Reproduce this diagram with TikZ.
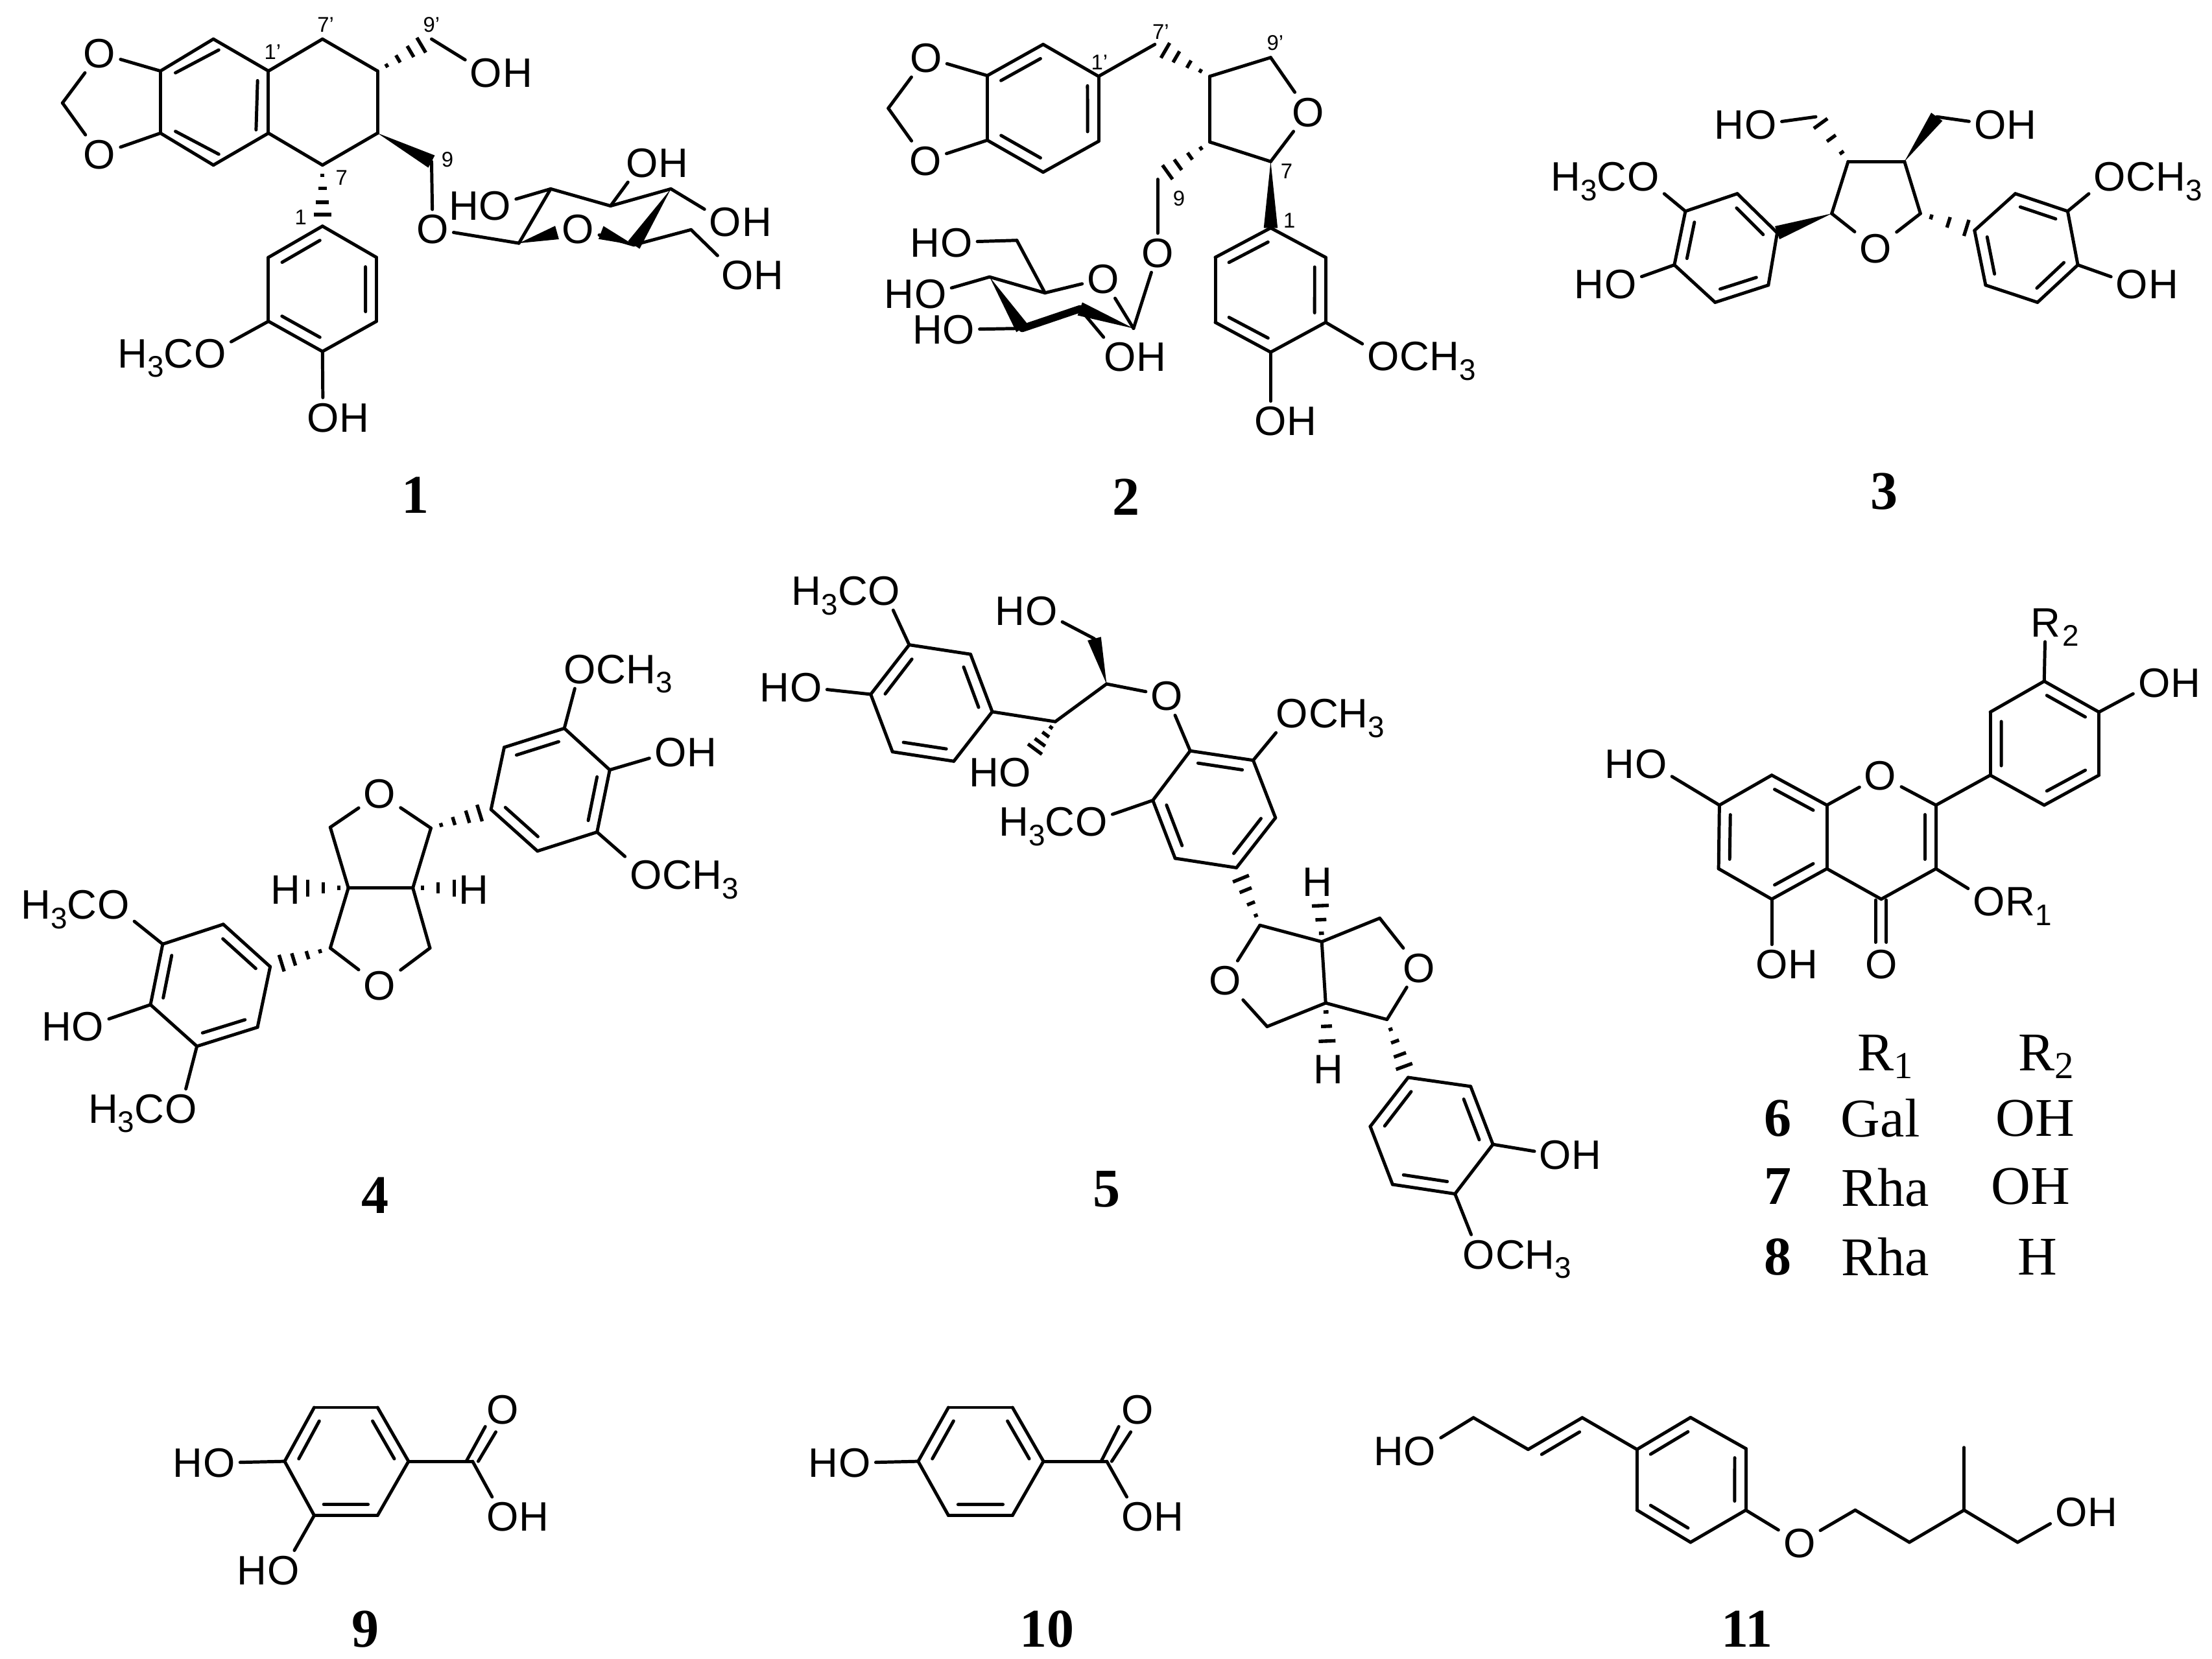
\documentclass[tikz,border=0pt]{standalone}
\usepackage{fontspec}
\setmainfont{Liberation Serif}
\setsansfont{Liberation Sans}
\usetikzlibrary{calc,positioning}
\tikzset{
  bond/.style={line width=0.65pt,line cap=round,line join=round},
  boldbond/.style={line width=1.5pt,line cap=round},
  hashline/.style={line width=0.7pt},
  atm/.style={font=\sffamily\fontsize{8.3}{9}\selectfont,inner sep=0.8pt,text height=5.9pt,text depth=0pt},
  tag/.style={font=\sffamily\fontsize{4.3}{5}\selectfont,inner sep=0pt},
  num/.style={font=\bfseries\fontsize{11}{12}\selectfont,inner sep=0pt},
  tab/.style={font=\fontsize{11}{12}\selectfont,inner sep=0pt},
  mola/.style={x=.003753cm,y=-.002522cm},
  molb/.style={shift={(5.701cm,0cm)},x=.003225cm,y=-.002522cm},
  molc/.style={shift={(10.759cm,-.276cm)},x=.003140cm,y=-.002346cm},
  mold/.style={shift={(0cm,-4.322cm)},x=.003460cm,y=-.002815cm},
  mole/.style={shift={(5.287cm,-3.954cm)},x=.003958cm,y=-.003343cm},
  molf/.style={shift={(11.218cm,-4.138cm)},x=.002847cm,y=-.003225cm},
  molg/.style={shift={(.92cm,-9.655cm)},x=.004985cm,y=-.001507cm},
  molh/.style={shift={(9.425cm,-9.655cm)},x=.003991cm,y=-.001507cm},
}
% atoms, bonds
\newcommand{\atoms}[1]{\foreach \n/\x/\y in {#1}{\coordinate (\n) at (\x,\y);}}
\newcommand{\bonds}[1]{\foreach \a/\b in {#1}{\draw[bond] (\a) -- (\b);}}
\newcommand{\inbonds}[1]{\foreach \a/\b/\c in {#1}{\draw[bond] ($(\a)!.06!(\b)!2.5pt!(\c)$) -- ($(\b)!.06!(\a)!2.5pt!(\c)$);}}
\newcommand{\wedgeb}[2]{\fill (#1) -- ($(#2)!1.4pt!90:(#1)$) -- ($(#2)!1.4pt!-90:(#1)$) -- cycle;}
\newcommand{\hashb}[2]{\foreach \t/\w in {.17/.4,.38/.85,.61/1.3,.81/1.75}{\draw[hashline] ($(#1)!\t!(#2)!\w pt!90:(#2)$) -- ($(#1)!\t!(#2)!\w pt!-90:(#2)$);}}
\newcommand{\hashc}[2]{\foreach \t/\w in {.2/.5,.52/1.1,.85/1.7}{\draw[hashline] ($(#1)!\t!(#2)!\w pt!90:(#2)$) -- ($(#1)!\t!(#2)!\w pt!-90:(#2)$);}}
\newcommand{\lsub}[1]{\raisebox{-1.9pt}{\fontsize{6}{6}\selectfont #1}}
% labels: the O sits at the given point
\newcommand{\labOH}[2]{\node[atm] (#1) at #2 {O}; \node[atm,right=-1.9pt of #1] (#1t) {H};}
\newcommand{\labHO}[2]{\node[atm] (#1) at #2 {O}; \node[atm,left=-1.9pt of #1] (#1t) {H};}
\newcommand{\labOMe}[2]{\node[atm] (#1) at #2 {O}; \node[atm,right=-1.9pt of #1] (#1t) {CH\lsub{3}};}
\newcommand{\labMeO}[2]{\node[atm] (#1) at #2 {O}; \node[atm,left=-1.9pt of #1] (#1t) {H\lsub{3}C};}
\newcommand{\labO}[2]{\node[atm] (#1) at #2 {O};}
\begin{document}
\begin{tikzpicture}
  \useasboundingbox (0,0) rectangle (15.68,-11.763);
  % 1
  \begin{scope}[mola]
    \atoms{a1/403/110,a2/303/200,a3/303/375,a4/403/465,a5/507/375,a6/507/200,ab1/609/110,ab2/713/200,ab3/713/375,ab4/609/465,
      ach/118/290,acn/507/288,ac9p/815/110,ac9/815/455,as1/980/685,as2/1040/532,as3/1153/580,as4/1267/532,as5/1197/690,as6/1305/647,
      aw1/1052/655,aw2/1135/655,ac1/609/637,ac2/507/725,ac3/507/905,ac4/609/990,ac5/711/905,ac6/711/725,acc/609/813}
    \labO{aot}{(188,150)} \labO{aob}{(188,435)} \labOH{aoh9}{(918,205)} \labO{ao9}{(817,645)} \labO{aors}{(1092,645)}
    \labHO{ash1}{(935,578)} \labOH{ash2}{(1213,458)} \labOH{ash3}{(1370,625)} \labOH{ash4}{(1393,775)}
    \labMeO{aome}{(397,995)} \labOH{aoh}{(610,1175)}
    \bonds{a1/a2,a2/a3,a3/a4,a4/a5,a5/a6,a6/a1,a6/ab1,ab1/ab2,ab2/ab3,ab3/ab4,ab4/a5,a2/aot,aot/ach,ach/aob,aob/a3,
      ac9p/aoh9,ac9/ao9,ao9/as1,as1/as2,as2/as3,as3/as4,as5/as6,as5/aors,as2/ash1,as3/ash2,as4/ash3,as6/ash4,
      ac1/ac2,ac2/ac3,ac3/ac4,ac4/ac5,ac5/ac6,ac6/ac1,ac3/aome,ac4/aoh}
    \inbonds{a1/a2/acn,a3/a4/acn,a5/a6/a3,ac1/ac2/acc,ac3/ac4/acc,ac5/ac6/acc}
    \wedgeb{ab3}{ac9} \wedgeb{as4}{as5} \wedgeb{as1}{aw1} \wedgeb{as5}{aw2}
    \hashb{ab2}{ac9p} \hashb{ab4}{ac1}
    \node[tag] (at7p) at (615,70) {7'}; \node[tag] (at9p) at (815,70) {9'}; \node[tag] (at1p) at (515,147) {1'};
    \node[tag] (at9) at (845,450) {9}; \node[tag] (at7) at (645,500) {7}; \node[tag] (at1) at (568,612) {1};
    \node[num] (na) at (785,1395) {1};
  \end{scope}
  % 2
  \begin{scope}[molb]
    \atoms{b1/526/125,b2/403/213,b3/403/395,b4/526/485,b5/648/398,b6/648/215,bcc/526/305,bch/185/305,b7p/772/125,
      bt1/893/215,bt2/1027/162,bt3/1027/455,bt4/893/400,b9/778/505,bs1/725/925,bs2/607/870,bs3/480/925,bs4/408/780,bs5/530/825,bs6/468/677,
      bu1/1027/642,bu2/905/725,bu3/905/908,bu4/1027/992,bu5/1148/908,bu6/1148/725,buc/1027/817}
    \labO{bot}{(268,162)} \labO{bob}{(267,452)} \labO{bor}{(1110,315)} \labO{bo9}{(778,712)} \labO{bors}{(658,785)}
    \labHO{bsh1}{(335,682)} \labHO{bsh2}{(278,828)} \labHO{bsh3}{(340,928)} \labOH{bsh4}{(695,1005)}
    \labOMe{bome}{(1275,1003)} \labOH{boh}{(1027,1185)}
    \bonds{b1/b2,b2/b3,b3/b4,b4/b5,b5/b6,b6/b1,b2/bot,bot/bch,bch/bob,bob/b3,b6/b7p,bt1/bt2,bt2/bor,bor/bt3,bt3/bt4,bt4/bt1,
      b9/bo9,bo9/bs1,bs1/bors,bors/bs5,bs5/bs4,bs5/bs6,bs6/bsh1,bs4/bsh2,bs3/bsh3,bs2/bsh4,
      bu1/bu2,bu2/bu3,bu3/bu4,bu4/bu5,bu5/bu6,bu6/bu1,bu5/bome,bu4/boh}
    \inbonds{b1/b2/bcc,b3/b4/bcc,b5/b6/bcc,bu1/bu2/buc,bu3/bu4/buc,bu5/bu6/buc}
    \wedgeb{bt3}{bu1} \wedgeb{bs1}{bs2} \wedgeb{bs4}{bs3}
    \draw[boldbond] (bs2) -- (bs3);
    \hashb{bt1}{b7p} \hashb{bt4}{b9}
    \node[tag] (bt7p) at (785,90) {7'}; \node[tag] (bt9p) at (1037,120) {9'}; \node[tag] (bt1p) at (650,175) {1'};
    \node[tag] (bt7) at (1062,483) {7}; \node[tag] (bt9) at (825,560) {9}; \node[tag] (bt1t) at (1068,622) {1};
    \node[num] (nb) at (708,1400) {2};
  \end{scope}
  % 3
  \begin{scope}[molc]
    \atoms{cf1/745/370,cf2/872/370,cf3/908/527,cf4/708/527,cm1/672/235,cm2/945/235,
      cl1/585/585,cl2/495/467,cl3/378/520,cl4/353/682,cl5/445/795,cl6/565/743,clc/470/630,
      cr1/1030/578,cr2/1122/467,cr3/1240/520,cr4/1263/682,cr5/1172/795,cr6/1055/743,crc/1147/630}
    \labO{cor}{(807,632)} \labHO{cm1o}{(548,258)} \labOH{cm2o}{(1065,258)}
    \labMeO{clm}{(283,415)} \labHO{clh}{(232,740)} \labOMe{crm}{(1335,415)} \labOH{crh}{(1385,740)}
    \bonds{cf1/cf2,cf2/cf3,cf3/cor,cor/cf4,cf4/cf1,cm1/cm1o,cm2/cm2o,cl1/cl2,cl2/cl3,cl3/cl4,cl4/cl5,cl5/cl6,cl6/cl1,cl3/clm,cl4/clh,
      cr1/cr2,cr2/cr3,cr3/cr4,cr4/cr5,cr5/cr6,cr6/cr1,cr3/crm,cr4/crh}
    \inbonds{cl1/cl2/clc,cl3/cl4/clc,cl5/cl6/clc,cr1/cr6/crc,cr2/cr3/crc,cr4/cr5/crc}
    \wedgeb{cf2}{cm2} \wedgeb{cf4}{cl1} \hashc{cf1}{cm1} \hashc{cf3}{cr1}
    \node[num] (nc) at (827,1365) {3};
  \end{scope}
  % 4
  \begin{scope}[mold]
    \atoms{dc1/713/703,dc2/845/703,dd1/676/550,dd2/882/552,de1/676/855,de2/880/855,dh1/615/703,dh2/945/703,
      dA1/1005/505,dA2/1032/348,dA3/1155/300,dA4/1248/405,dA5/1222/562,dA6/1100/610,dAc/1127/455,
      dB1/553/902,dB2/457/795,dB3/333/845,dB4/308/998,dB5/403/1103,dB6/527/1055,dBc/430/950}
    \labO{dot}{(777,465)} \labO{dob}{(777,950)}
    \node[atm] (dhl) at (585,707) {H}; \node[atm] (dhr) at (970,707) {H};
    \labOMe{dam}{(1187,150)} \labOH{dah}{(1372,360)} \labOMe{dan}{(1322,670)}
    \labMeO{dbm}{(232,745)} \labHO{dbh}{(180,1052)} \labMeO{dbn}{(370,1260)}
    \bonds{dc1/dc2,dc1/dd1,dd1/dot,dot/dd2,dd2/dc2,dc1/de1,de1/dob,dob/de2,de2/dc2,
      dA1/dA2,dA2/dA3,dA3/dA4,dA4/dA5,dA5/dA6,dA6/dA1,dA3/dam,dA4/dah,dA5/dan,
      dB1/dB2,dB2/dB3,dB3/dB4,dB4/dB5,dB5/dB6,dB6/dB1,dB3/dbm,dB4/dbh,dB5/dbn}
    \inbonds{dA1/dA6/dAc,dA2/dA3/dAc,dA4/dA5/dAc,dB1/dB2/dBc,dB3/dB4/dBc,dB5/dB6/dBc}
    \hashc{dc1}{dh1} \hashc{dc2}{dh2} \hashb{dd2}{dA1} \hashb{de1}{dB1}
    \node[num] (nd) at (768,1480) {4};
  \end{scope}
  % 5
  \begin{scope}[mole]
    \atoms{eP1/293/185,eP2/403/205,eP3/442/327,eP4/373/432,eP5/263/412,eP6/224/290,ePc/333/310,
      eg1/555/348,eg2/647/268,eg3/625/172,egh/510/420,
      eQ1/797/410,eQ2/910/430,eQ3/950/552,eQ4/880/658,eQ5/770/638,eQ6/730/515,eQc/840/535,
      ek1/922/780,ek2/1033/815,ek3/1040/945,ek4/1150/980,ek5/935/995,ek6/1137/765,eh1/1030/725,eh2/1043/1040,
      em1/1188/1103,em2/1300/1122,em3/1340/1245,em4/1272/1350,em5/1160/1330,em6/1120/1207,emc/1230/1226}
    \labMeO{ePm}{(248,70)} \labHO{ePh}{(108,275)} \labHO{eg3o}{(530,113)} \labHO{eg1o}{(483,455)} \labO{eox}{(755,293)}
    \labOMe{eQm}{(980,330)} \labMeO{eQn}{(620,560)} \labO{eol}{(860,897)} \labO{eor}{(1207,870)}
    \node[atm] (eht) at (1025,688) {H}; \node[atm] (ehb) at (1045,1085) {H};
    \labOH{emh}{(1452,1267)} \labOMe{emm}{(1315,1478)}
    \bonds{eP1/eP2,eP2/eP3,eP3/eP4,eP4/eP5,eP5/eP6,eP6/eP1,eP1/ePm,eP6/ePh,eP3/eg1,eg1/eg2,eg2/eox,eg3/eg3o,eox/eQ1,
      eQ1/eQ2,eQ2/eQ3,eQ3/eQ4,eQ4/eQ5,eQ5/eQ6,eQ6/eQ1,eQ2/eQm,eQ6/eQn,
      ek1/ek2,ek2/ek3,ek3/ek4,ek3/ek5,ek2/ek6,ek6/eor,eor/ek4,ek1/eol,eol/ek5,
      em1/em2,em2/em3,em3/em4,em4/em5,em5/em6,em6/em1,em3/emh,em4/emm}
    \inbonds{eP1/eP6/ePc,eP2/eP3/ePc,eP4/eP5/ePc,eQ1/eQ2/eQc,eQ3/eQ4/eQc,eQ5/eQ6/eQc,em1/em6/emc,em2/em3/emc,em4/em5/emc}
    \wedgeb{eg2}{eg3} \hashb{eg1}{egh} \hashb{ek1}{eQ4} \hashc{ek2}{eh1} \hashc{ek3}{eh2} \hashb{ek4}{em1}
    \node[num] (ne) at (647,1340) {5};
  \end{scope}
  % 6-8
  \begin{scope}[molf]
    \atoms{fn1/340/488,fn2/470/422,fn3/607/488,fn4/607/628,fn5/470/695,fn6/338/628,fnc/473/558,
      fv1/878/488,fv2/878/628,fv3/742/695,fvc/742/558,fca/728/697,fcb/728/790,fcc/755/697,fcd/755/790,
      fw1/1013/422,fw2/1013/283,fw3/1147/215,fw4/1283/283,fw5/1283/422,fw6/1147/488,fwc/1147/352}
    \labO{for}{(740,423)} \labO{foc}{(742,838)} \labHO{fh7}{(170,397)} \labOH{fh5}{(470,838)}
    \labOH{fh4}{(1420,218)}
    \node[atm] (forr) at (1010,700) {O}; \node[atm,right=-1.9pt of forr] (forrt) {R\lsub{1}};
    \node[atm] (fr2) at (1150,85) {R}; \node[atm,right=-1.6pt of fr2] (fr2t) {\lsub{2}};
    \bonds{fn1/fn2,fn2/fn3,fn3/fn4,fn4/fn5,fn5/fn6,fn6/fn1,fn3/for,for/fv1,fv1/fv2,fv2/fv3,fv3/fn4,fn1/fh7,fn5/fh5,fv2/forr,fv1/fw1,
      fca/fcb,fcc/fcd,fw1/fw2,fw2/fw3,fw3/fw4,fw4/fw5,fw5/fw6,fw6/fw1,fw3/fr2,fw4/fh4}
    \inbonds{fn1/fn6/fnc,fn2/fn3/fnc,fn4/fn5/fnc,fv1/fv2/fvc,fw1/fw2/fwc,fw3/fw4/fwc,fw5/fw6/fwc}
    \node[tab] (tr1) at (755,1042) {R\textsubscript{1}}; \node[tab] (tr2) at (1155,1042) {R\textsubscript{2}};
    \node[num] (n6) at (485,1178) {6}; \node[tab] (t6a) at (740,1178) {Gal}; \node[tab] (t6b) at (1125,1178) {OH};
    \node[num] (n7) at (485,1328) {7}; \node[tab] (t7a) at (752,1330) {Rha}; \node[tab] (t7b) at (1113,1328) {OH};
    \node[num] (n8) at (485,1483) {8}; \node[tab] (t8a) at (752,1483) {Rha}; \node[tab] (t8b) at (1130,1483) {H};
  \end{scope}
  % 9, 10
  \begin{scope}[molg]
    \atoms{g1/262/215,g2/352/215,g3/396/468,g4/352/722,g5/262/722,g6/220/468,gc/307/468,gca/487/468,gd1/478/468,gd2/505/305,gd3/495/468,gd4/520/330,
      j1/1163/215,j2/1254/215,j3/1298/468,j4/1254/722,j5/1163/722,j6/1120/468,jc/1209/468,jca/1388/468,jd1/1380/468,jd2/1405/305,jd3/1395/468,jd4/1422/330}
    \labO{goc}{(530,225)} \labOH{goh}{(530,727)} \labHO{gh1}{(127,475)} \labHO{gh2}{(218,978)}
    \labO{joc}{(1432,225)} \labOH{joh}{(1432,727)} \labHO{jh1}{(1030,475)}
    \bonds{g1/g2,g2/g3,g3/g4,g4/g5,g5/g6,g6/g1,g3/gca,gd1/gd2,gd3/gd4,gca/goh,g6/gh1,g5/gh2,
      j1/j2,j2/j3,j3/j4,j4/j5,j5/j6,j6/j1,j3/jca,jd1/jd2,jd3/jd4,jca/joh,j6/jh1}
    \inbonds{g1/g6/gc,g2/g3/gc,g4/g5/gc,j1/j6/jc,j2/j3/jc,j4/j5/jc}
    \node[num] (n9) at (335,1255) {9}; \node[num] (n10) at (1303,1255) {10};
  \end{scope}
  % 11
  \begin{scope}[molh]
    \atoms{hq1/255/263,hq2/352/412,hq3/448/263,hz1/545/412,hz2/640/262,hz3/738/408,hz4/738/697,hz5/640/848,hz6/545/697,hzc/640/555,hqc/447/560,
      hy1/932/697,hy2/1028/848,hy3/1125/697,hy4/1125/403,hy5/1220/848}
    \labHO{hh1}{(160,418)} \labO{hor}{(833,850)} \labOH{hh2}{(1315,705)}
    \bonds{hh1/hq1,hq1/hq2,hq2/hq3,hq3/hz1,hz1/hz2,hz2/hz3,hz3/hz4,hz4/hz5,hz5/hz6,hz6/hz1,hz4/hor,hor/hy1,hy1/hy2,hy2/hy3,hy3/hy4,hy3/hy5,hy5/hh2}
    \inbonds{hq2/hq3/hqc,hz1/hz2/hzc,hz3/hz4/hzc,hz5/hz6/hzc}
    \node[num] (n11) at (740,1255) {11};
  \end{scope}
\end{tikzpicture}
\end{document}
